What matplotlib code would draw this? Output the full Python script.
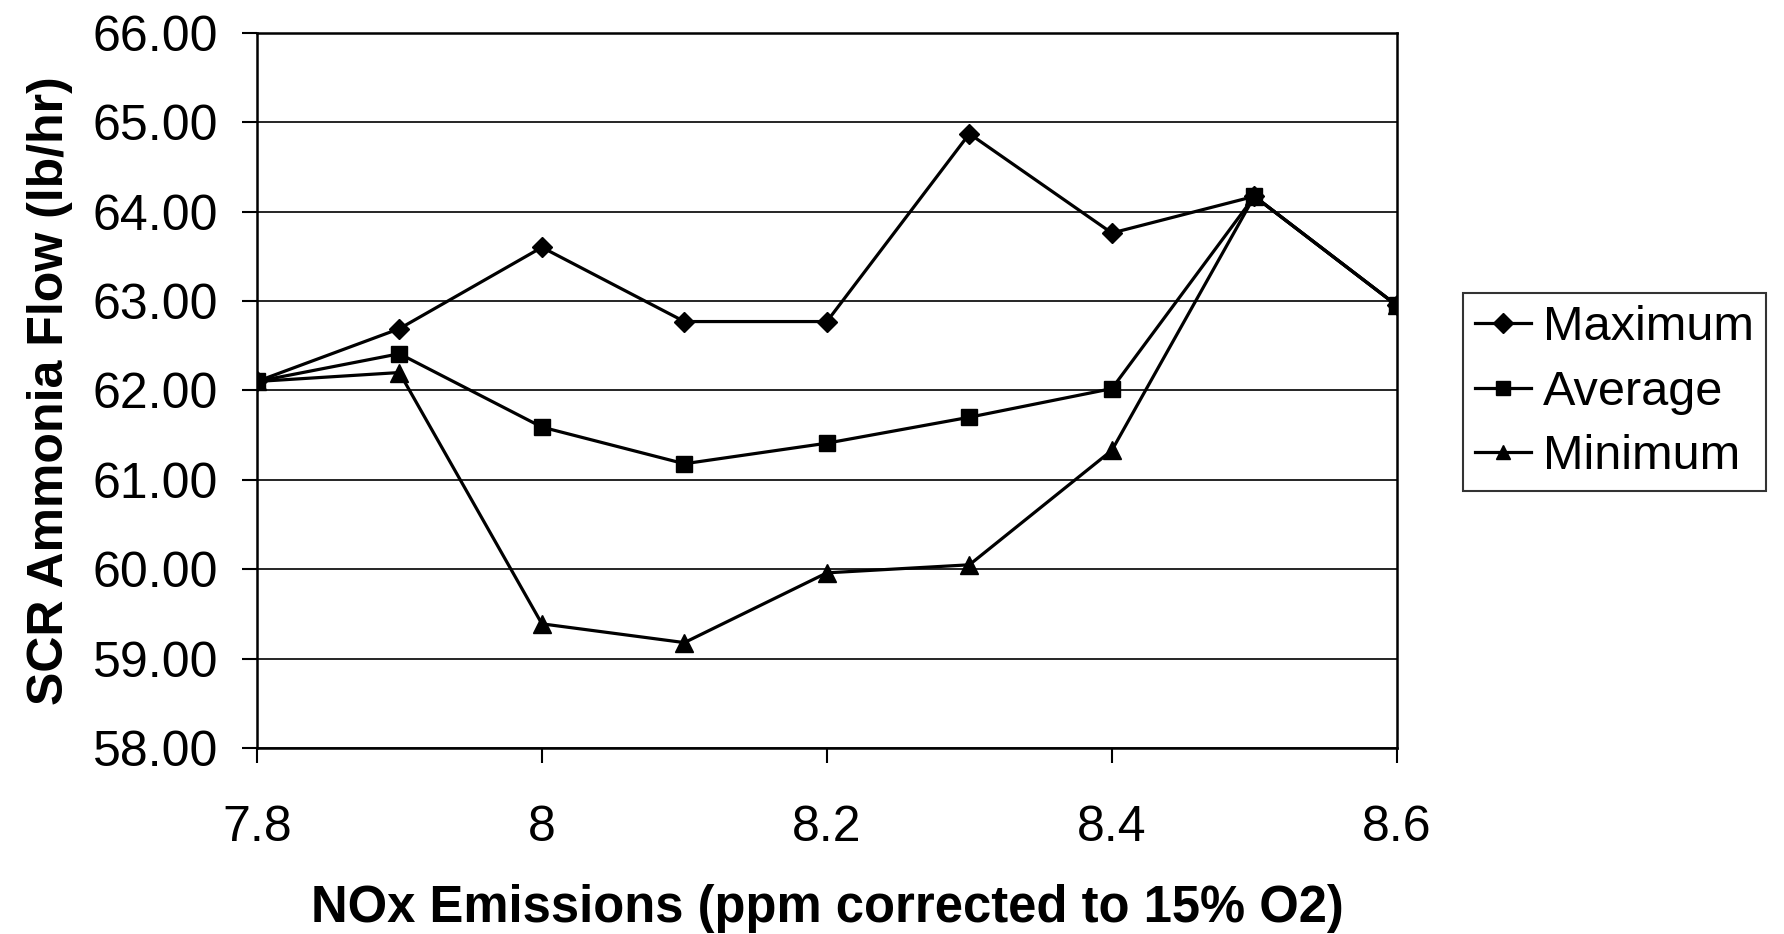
import matplotlib
matplotlib.use("Agg")
import matplotlib.pyplot as plt
from matplotlib.ticker import FormatStrFormatter

nox = [7.8, 7.9, 8.0, 8.1, 8.2, 8.3, 8.4, 8.5, 8.6]
maximum = [62.10, 62.69, 63.60, 62.77, 62.77, 64.87, 63.76, 64.17, 62.95]
average = [62.10, 62.41, 61.59, 61.18, 61.41, 61.70, 62.02, 64.17, 62.95]
minimum = [62.10, 62.20, 59.39, 59.18, 59.96, 60.05, 61.33, 64.17, 62.95]

plt.rcParams["font.family"] = ["Liberation Sans", "DejaVu Sans"]

fig = plt.figure(figsize=(17.84, 9.34), dpi=100)
ax = fig.add_axes([0.144, 0.199, 0.639, 0.766])

kw = dict(color="black", lw=2.3, markeredgecolor="black", markerfacecolor="black")
ax.plot(nox, maximum, marker="D", ms=10, label="Maximum", **kw)
ax.plot(nox, average, marker="s", ms=12, label="Average", **kw)
ax.plot(nox, minimum, marker="^", ms=13, label="Minimum", **kw)

ax.set_xlim(7.8, 8.6)
ax.set_ylim(58, 66)
ax.set_xticks([7.8, 8.0, 8.2, 8.4, 8.6])
ax.set_xticklabels(["7.8", "8", "8.2", "8.4", "8.6"])
ax.set_yticks(range(58, 67))
ax.yaxis.set_major_formatter(FormatStrFormatter("%.2f"))
ax.grid(axis="y", color="black", lw=1.2)
ax.set_axisbelow(True)
for s in ax.spines.values():
    s.set_linewidth(1.8)
ax.tick_params(direction="out", length=11, width=1.5, labelsize=36, pad=17)
ax.tick_params(axis="x", pad=30)

ax.set_xlabel("NOx Emissions (ppm corrected to 15% O2)", fontsize=36.5,
              fontweight="bold", labelpad=24)
ax.set_ylabel("SCR Ammonia Flow (lb/hr)", fontsize=36, fontweight="bold",
              labelpad=14)

leg = ax.legend(loc="upper left", bbox_to_anchor=(1463 / 1784, 1 - 293 / 934),
                bbox_transform=fig.transFigure, fontsize=35,
                frameon=True, fancybox=False, edgecolor="black",
                handlelength=1.15, handletextpad=0.25, labelspacing=0.4,
                borderpad=0.25, borderaxespad=0)
leg.get_frame().set_linewidth(1.5)
for h in leg.legend_handles:
    h.set_markersize(10)

fig.savefig("out.png", dpi=100)
